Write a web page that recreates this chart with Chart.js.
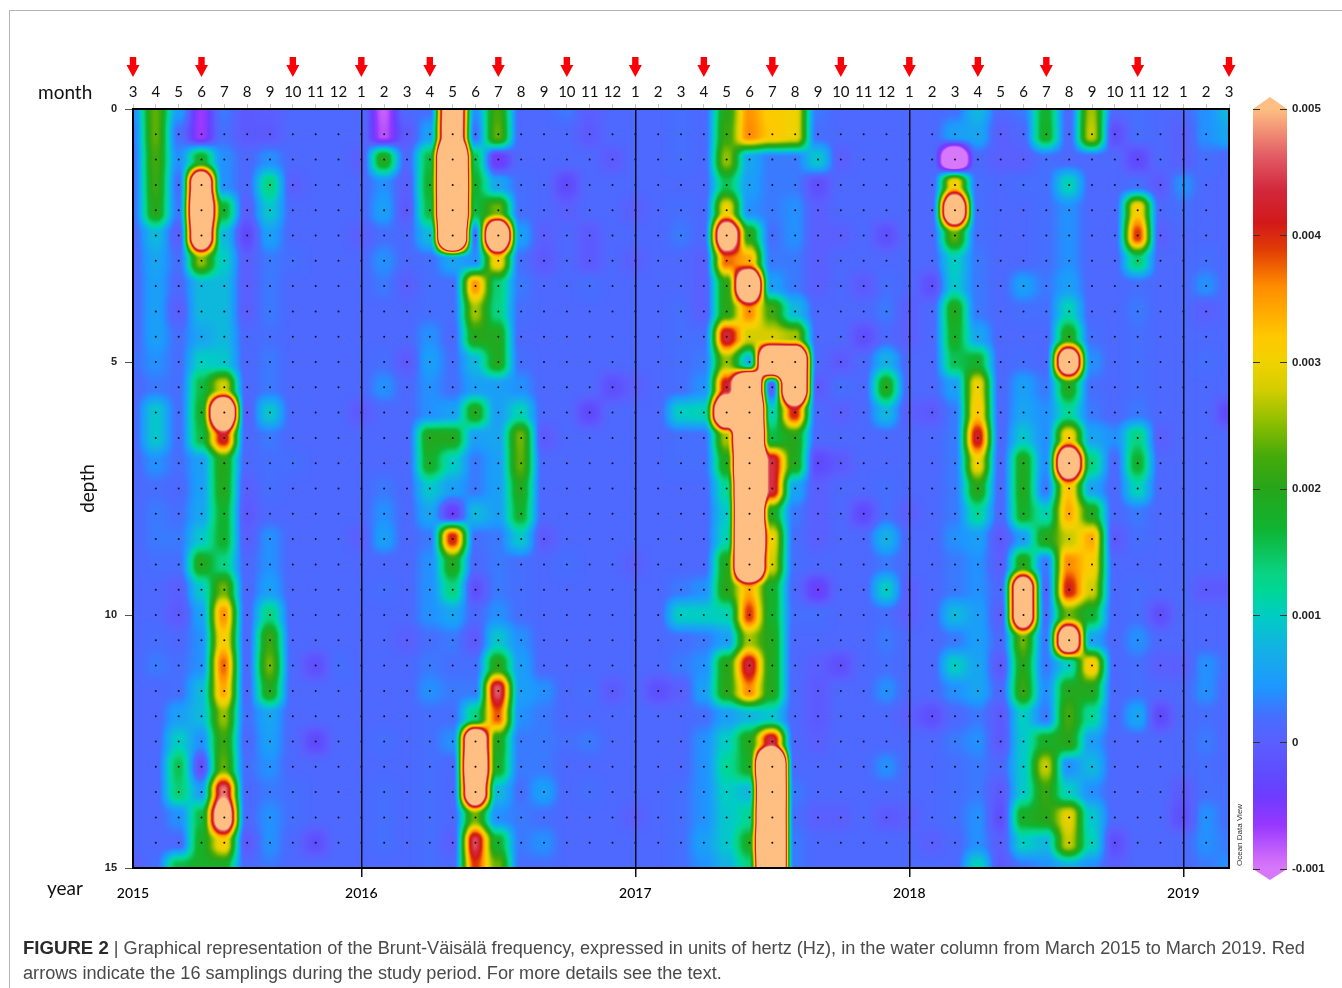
<!DOCTYPE html>
<html>
<head>
<meta charset="utf-8">
<title>Brunt-Väisälä frequency</title>
<script src="https://cdn.jsdelivr.net/npm/chart.js@4"></script>
<style>
    html, body { margin: 0; padding: 0; background: #fff; }
    body { position: relative; width: 1342px; height: 988px; overflow: hidden; }
    #frame { position: absolute; left: 9px; top: 10px; width: 1333px; height: 978px; border-top: 1.5px solid #b4b4b4; border-left: 1.5px solid #b4b4b4; }
    canvas { position: absolute; }
    #myChart { left: 0; top: 0; }
    #scaleChart { left: 1240px; top: 85px; }
    .side { position: absolute; font: 19px Lato, sans-serif; color: #111; line-height: 24px; }
    #odv { position: absolute; left: 1235px; top: 866px; font: 8px "Liberation Sans", sans-serif; color: #333; white-space: nowrap; transform-origin: 0 0; transform: rotate(-90deg); }
    #caption { position: absolute; left: 23px; top: 935px; width: 1300px; font: 18.15px/25px "Liberation Sans", sans-serif; color: #4a4a4a; }
    #caption b { color: #2b2b2b; font-size: 18.6px; }
</style>
</head>
<body>
<div id="frame"></div>
<canvas id="myChart" width="1342" height="988"></canvas>
<canvas id="scaleChart" width="102" height="810"></canvas>
<div class="side" style="left:38px;top:80px">month</div>
<div class="side" style="left:47px;top:876px">year</div>
<div id="odv">Ocean Data View</div>
<div id="caption"><b>FIGURE 2</b> | Graphical representation of the Brunt-Väisälä frequency, expressed in units of hertz (Hz), in the water column from March 2015 to March 2019. Red arrows indicate the 16 samplings during the study period. For more details see the text.</div>

<script>
const monthLabels = [3,4,5,6,7,8,9,10,11,12,1,2,3,4,5,6,7,8,9,10,11,12,1,2,3,4,5,6,7,8,9,10,11,12,1,2,3,4,5,6,7,8,9,10,11,12,1,2,3];
const yearLabels = ['2015','2016','2017','2018','2019'];
const yearPositions = [0,10,22,34,46];
const arrowPositions = [0,3,7,10,13,16,19,22,25,28,31,34,37,40,44,48];
const depths = [0,.5,1,1.5,2,2.5,3,3.5,4,4.5,5,5.5,6,6.5,7,7.5,8,8.5,9,9.5,10,10.5,11,11.5,12,12.5,13,13.5,14,14.5,15];

// frequency in 0.001 Hz, one list per month, one value per depth
const freq = [
    [.4,.3,.2,.2,.2, .1,.1,.1,.1,.1, .2,.1,.1,.1,.1, .1,.1,.1,.1,.1, .1,.1,.1,.1,.1, .1,.1,.1,.1,.1,0],
    [2.3,2.3,2.2,2.1,2, .8,.6,.5,.5,.5, .4,.3,.9,.9,.4, .2,.3,.3,.2,.1, .1,.2,.3,.1,.1, .1,.1,.1,.1,.1,.2],
    [.5,.2,.4,.2,.3, 0,.2,.1,0,.2, .2,.2,.2,.2,.2, .1,.2,.3,.2,0, -.1,.1,.2,.2,.5, 1,1.5,1.4,.4,.1,1.6],
    [-.7,-.7,1.8,8,9, 8,2.5,.8,.8,.6, 1,1.6,1.7,1.6,.5, .5,.6,.9,1.9,.9, .5,.4,.4,.8,.8, .4,-.2,.5,1.6,1.8,1.8],
    [.3,.2,.4,.4,1.7, .8,1,.8,.8,.8, .9,2.8,9,4.2,2, 1.9,1.7,1.7,1.3,2.4, 3.5,3.1,3.7,3.4,2.5, 2.1,2.3,4.7,6.5,3.1,1.8],
    [-.1,-.1,.1,.1,0, -.3,0,0,0,.1, .1,.1,0,.1,.1, 0,-.1,0,.1,.1, .1,.1,.1,.1,.2, .1,.2,.1,.1,-.1,.1],
    [0,-.1,.4,1.3,.9, .5,.3,.3,.3,.2, .3,.3,.9,.3,.2, .2,.1,.4,.4,.5, 1.3,2.1,2.4,1.9,.6, .5,.4,.3,.4,.4,.3],
    [.1,.1,.1,0,.1, .1,.2,.1,.1,.1, .1,.1,.1,.1,.2, .1,.1,.1,.1,.1, .1,.1,.1,.1,.1, .1,.1,.2,.2,.1,.1],
    [.1,.1,.1,.1,.1, .1,.1,.1,.1,.1, .1,.1,.1,.1,.1, .1,.1,.1,.1,.1, .1,.1,-.2,.1,.1, -.3,.1,.1,.1,-.2,.1],
    [.1,.1,.1,.1,.1, .1,.1,.1,.1,.1, .1,.1,.1,.1,.1, .1,.1,.1,.1,.1, .1,.1,.2,.1,.1, .1,.1,.1,.1,.1,.1],
    [.1,.1,0,.1,.1, 0,.1,.1,.1,.1, .1,.1,-.1,.1,.1, .1,.1,0,.1,.1, .1,.1,.1,.1,.1, .1,.1,.1,.1,.1,.1],
    [-.9,-.8,1.9,.4,.5, .2,.4,.3,.1,.1, .2,.4,.1,.1,.1, .3,.4,.5,.1,.2, .1,.1,.1,.1,.1, .2,.1,.2,.2,.2,.1],
    [.1,-.1,.1,0,-.1, .1,.1,0,.1,.1, -.1,.1,.1,.1,.1, .1,.1,.1,.1,.1, .1,0,.1,.1,.1, .1,.1,.1,.1,.1,.1],
    [.2,.5,1.6,1.7,1.6, .8,.2,.2,.2,.4, .5,.4,.4,1.9,1.8, .9,.6,.3,.4,.4, .4,.2,.3,.4,.2, .2,.2,.2,.2,.2,.2],
    [8,8,14,14,14, 13,.6,.2,.2,.1, .2,.2,.5,1.9,1, .5,-.4,4.1,1.9,1.3, .6,.3,.2,.3,.2, .4,.1,.1,.1,0,.1],
    [.4,.2,1.5,1.7,1.6, .2,.4,3.5,2.6,2, .8,.5,1.9,.5,.3, .3,.8,.2,.1,-.2, .1,-.1,.2,.3,1.3, 8,9,8,2.4,4.5,3.9],
    [2.2,2.3,-.5,.6,2.4, 9,3.1,1.4,1.3,1.9, 1.9,.5,.5,.6,.5, .5,.5,.3,.3,.3, .4,.9,2,4.6,3.8, 1.9,1.8,.8,.4,1.7,2.4],
    [.1,.1,.1,.2,.2, .5,.2,.3,.2,.1, .2,.4,1.1,2.4,2.3, 1.9,1.7,.9,.2,.2, .2,.4,.5,.5,.4, .3,.3,.2,.3,.3,.2],
    [.1,.1,.1,.1,.1, 0,-.1,.1,.1,.1, .1,.1,.1,-.1,.1, .1,.1,-.1,.1,.1, .1,.1,.1,.4,.3, .3,.3,.5,.2,.4,.2],
    [.3,.1,.1,-.3,0, .1,.1,.1,.1,.1, .1,.1,.1,.1,.1, .1,.1,.1,.2,.1, .1,.1,.1,.1,.1, .2,.1,.1,.1,.1,.1],
    [0,-.1,.1,.1,.1, -.1,-.1,.2,.1,.1, .1,.1,-.3,.1,.1, .1,.1,.1,.1,.1, .1,.1,.1,.2,.1, .3,.1,.2,.1,.1,.1],
    [.1,.1,-.1,.1,.1, .1,.1,.1,.1,.1, .1,-.2,.1,.1,.1, .1,.1,.1,.1,.1, .1,.1,.1,-.1,.1, .1,.1,.1,.1,.1,.1],
    [.1,.1,.1,.1,0, .1,0,.1,.1,.1, .1,0,.1,.1,.1, .1,.1,.1,0,.1, .1,.1,.1,.1,.1, .1,.1,.1,0,.1,.1],
    [.1,.1,.1,.1,.1, .1,.1,.1,.1,.1, .1,.1,.1,.1,.1, .1,.1,.1,.1,.1, .1,.1,.1,-.2,.1, .1,.1,.1,.1,.1,.1],
    [.2,.2,.2,.1,.2, .3,.1,.1,.2,.2, .2,.2,1,.2,.2, .1,.1,.1,.1,.3, 1,.2,.3,0,.1, .1,.1,.2,.2,.2,.2],
    [.1,.1,.1,.1,.1, .1,0,0,0,.2, .3,.4,1.1,.2,.2, .1,.1,.1,.1,.4, 1,.3,.4,.5,.2, .4,.4,.4,.4,.5,.4],
    [2,2.1,2.5,1.5,3, 7,3.7,2,2,4.3, 2.5,4.2,9,2.6,1.9, 1.2,.9,1.1,1.9,2, 1.1,.5,2,2,.5, 1,1.2,1,.9,.9,.7],
    [3.5,3.6,.6,.5,.4, 2,3.4,9,3.6,2.8, .7,11,14,14,14, 14,14,14,12,3.4, 3.9,2.6,4.3,3.6,.8, 1.9,1.8,.8,1.2,1.8,1.3],
    [3.1,3.2,.3,.3,.3, .2,.3,.5,2.2,2.8, 10,0,1.1,1.6,4.4, 4.4,1.9,3,2.8,1.8, 1.8,1.9,1.9,1.9,.9, 4.4,14,14,14,14,14],
    [3,3,.3,.3,.4, .4,.3,.3,.8,2.6, 10,10,4.1,2,1.9, .6,.3,.2,.2,.1, .2,.1,.1,.1,.1, .1,.1,.3,.2,.3,.3],
    [.3,.2,.9,-.2,0, 0,0,0,.1,.1, .1,-.1,.1,.1,-.3, 0,0,0,.1,-.4, .2,.1,0,-.1,-.1, 0,.1,.1,0,.1,.1],
    [.1,.1,0,.1,.1, 0,.1,.1,.1,.1, -.1,.2,0,.1,-.1, .1,.1,.1,.1,.1, .1,.1,-.2,.1,.1, .1,.1,.1,0,.1,.1],
    [.1,.1,.1,.1,.1, .1,.1,-.1,.1,-.2, .1,.1,.1,.1,.1, .1,-.3,.1,.1,.1, .1,.1,.1,.1,.1, .1,.1,.1,.1,.1,.1],
    [.1,.1,.1,.1,.1, -.2,.1,.2,.3,.1, .7,1.9,.8,.1,.1, .2,.2,.7,.3,1, .2,.3,.2,.4,.1, .1,.4,.1,-.1,.1,.1],
    [.1,.1,.1,.1,.1, .1,.1,.1,0,0, .1,.1,0,.1,.1, .1,0,.1,.1,0, 0,.1,.1,.1,0, .1,.1,.1,0,.1,.1],
    [.1,.1,.1,.1,.1, .1,.1,-.2,.1,.1, .1,.1,-.1,.1,.1, .1,.1,.1,.1,.1, .1,.1,.1,.1,-.2, .1,.1,.1,.1,0,.1],
    [.2,.5,-2.5,3.1,8, 2.3,1,.9,1.9,1.8, 1.5,.5,.3,.3,.3, .3,.3,.4,.3,.3, .8,.3,1,.4,.1, .3,.2,.2,.2,.1,.1],
    [.8,.6,.1,.2,.2, .2,.3,.3,.3,.6, 1.7,3,3.2,4.2,3, 2,1.2,.5,.4,.4, .5,.5,.6,.6,.3, .4,.3,.3,.4,.4,1.1],
    [.1,0,0,.1,.1, .1,.1,.1,.1,.1, .1,.1,.1,.1,.1, .1,.1,-.1,0,.1, 0,.1,-.1,.1,-.1, -.1,.1,-.1,-.2,0,-.1],
    [.3,.1,0,.2,.1, .1,.1,.5,.2,.1, .2,.5,.6,.9,1.9, 1.9,1.8,.5,2,7.5, 7.5,2.4,2,2.1,1, .9,.9,.9,1.8,1,.3],
    [1.7,1.8,.2,.2,.2, .2,.2,.3,.2,.1, .1,.3,.4,.4,.4, .3,1.1,1.9,.3,.1, .2,.3,.3,.4,.3, 1.8,2.7,2.1,2,.8,.4],
    [.1,.1,.1,1.1,.4, .4,.4,.5,1.1,1.9, 7.5,1.9,1.2,3.1,8, 3.2,3.4,2.7,3.6,4.1, 2.4,7.5,1,1.9,2.2, 2,.4,1,2.9,2.7,.7],
    [2.6,2.7,.1,.1,.1, .1,.1,.1,.1,.2, .4,.2,.3,.6,1.3, .6,1.9,3.4,3.1,2.8, 1.7,.6,3.2,1.9,1.2, .5,.8,.4,.9,1.1,.4],
    [.1,-.2,.1,.1,.1, .1,.1,.1,.1,.1, .1,.1,.1,.4,.1, .1,.1,-.1,.1,.1, .1,.1,.1,.1,.1, .1,.1,.1,.1,-.2,0],
    [.2,.2,-.3,.2,3.1, 3.9,1.4,.2,.3,.2, .2,.2,.3,1.3,1.7, 1.1,.3,.2,.1,.2, .2,.4,.2,.2,.6, .1,.1,.1,.1,.1,.1],
    [.1,.1,.1,-.1,.1, 0,.1,.1,.1,.1, .1,.1,.1,0,.1, .1,.1,.1,.1,.1, -.2,.1,0,.1,-.3, .1,.1,.1,.1,.1,.1],
    [.1,0,0,.4,.2, .1,.1,.1,.1,.1, .1,.1,.1,.1,.1, .1,.1,.1,.1,.1, .1,.1,0,.1,.1, .1,.1,-.1,-.2,.1,.1],
    [.4,.4,.2,.1,.1, .1,.2,.4,0,.1, .2,.1,.1,.1,.1, .1,.1,.1,.1,-.1, .1,.1,.4,.4,.2, .3,.2,.2,.4,.4,.3],
    [.8,.6,.1,.1,.1, .1,.1,.1,.1,.1, .1,.1,-.3,.1,.1, .1,.1,.1,.1,-.1, .1,.1,.2,.1,.1, .1,.1,.2,.2,.3,.4]
];

const scaleValues = [-1,-.91,-.65,-.43,-.25,0,.2,.43,.72,1,1.2,1.34,1.68,2.02,2.26,2.52,2.78,3,3.2,3.6,3.89,4.1,4.36,4.62,5];
const scaleColors = [[215,120,250],[205,105,250],[150,55,255],[110,60,255],[95,75,255],[90,95,255],[70,110,255],[30,150,255],[20,175,230],[0,205,195],[0,215,150],[10,210,130],[15,180,50],[40,165,25],[70,170,10],[140,190,0],[210,205,0],[240,210,0],[255,200,0],[255,140,0],[225,60,5],[210,25,25],[210,40,60],[225,90,100],[255,190,130]];

// the cells are drawn as grey levels, then smoothed and coloured like the ODV gridding
const greyMin = -3, greyMax = 14;
const cellSprites = {};
function cellSprite(v) {
    const g = Math.round((Math.min(greyMax, Math.max(greyMin, v)) - greyMin) / (greyMax - greyMin) * 255);
    if (!cellSprites[g]) {
        const c = document.createElement('canvas');
        c.width = 24;
        c.height = 26;
        const x = c.getContext('2d');
        x.fillStyle = `rgb(${g},${g},${g})`;
        x.fillRect(0, 0, 24, 26);
        cellSprites[g] = c;
    }
    return cellSprites[g];
}

function colorFor(v) {
    if (v <= scaleValues[0]) return scaleColors[0];
    for (let i = 1; i < scaleValues.length; i++) {
        if (v <= scaleValues[i]) {
            const t = (v - scaleValues[i - 1]) / (scaleValues[i] - scaleValues[i - 1]);
            const a = scaleColors[i - 1], b = scaleColors[i];
            return [a[0] + (b[0] - a[0]) * t, a[1] + (b[1] - a[1]) * t, a[2] + (b[2] - a[2]) * t];
        }
    }
    return scaleColors[scaleColors.length - 1];
}

function boxPass(src, w, h, size, horizontal) {
    const out = new Float32Array(w * h);
    const half = size >> 1;
    const lines = horizontal ? h : w, len = horizontal ? w : h;
    for (let l = 0; l < lines; l++) {
        const at = i => {
            const k = Math.min(len - 1, Math.max(0, i));
            return horizontal ? src[l * w + k] : src[k * w + l];
        };
        let sum = 0;
        for (let i = -half; i <= half; i++) sum += at(i);
        for (let i = 0; i < len; i++) {
            out[horizontal ? l * w + i : i * w + l] = sum / (half * 2 + 1);
            sum += at(i + half + 1) - at(i - half);
        }
    }
    return out;
}

const gridding = {
    id: 'gridding',
    afterDatasetDraw(chart, args) {
        if (args.index !== 1) return;
        const a = chart.chartArea, ctx = chart.ctx;
        const x0 = Math.round(a.left), y0 = Math.round(a.top);
        const w = Math.round(a.right) - x0, h = Math.round(a.bottom) - y0;
        const img = ctx.getImageData(x0, y0, w, h);
        let vals = new Float32Array(w * h);
        for (let i = 0; i < w * h; i++) vals[i] = img.data[i * 4] / 255 * (greyMax - greyMin) + greyMin;
        vals = boxPass(vals, w, h, 15, true);
        vals = boxPass(vals, w, h, 15, false);
        vals = boxPass(vals, w, h, 7, true);
        vals = boxPass(vals, w, h, 7, false);
        for (let i = 0; i < w * h; i++) {
            const c = colorFor(vals[i]);
            img.data[i * 4] = c[0];
            img.data[i * 4 + 1] = c[1];
            img.data[i * 4 + 2] = c[2];
            img.data[i * 4 + 3] = 255;
        }
        ctx.putImageData(img, x0, y0);
    }
};

const samplingArrows = {
    id: 'samplingArrows',
    afterDraw(chart) {
        const ctx = chart.ctx, xs = chart.scales.x;
        ctx.save();
        ctx.fillStyle = '#fb0007';
        arrowPositions.forEach(p => {
            const x = xs.getPixelForValue(p);
            ctx.beginPath();
            ctx.moveTo(x - 3.2, 57);
            ctx.lineTo(x + 3.2, 57);
            ctx.lineTo(x + 3.2, 65);
            ctx.lineTo(x + 6.5, 65);
            ctx.lineTo(x, 77);
            ctx.lineTo(x - 6.5, 65);
            ctx.lineTo(x - 3.2, 65);
            ctx.closePath();
            ctx.fill();
        });
        ctx.restore();
    }
};

const cells = [];
freq.forEach((col, m) => col.forEach((v, d) => cells.push({x: m, y: depths[d], v: v})));

const dots = [];
monthLabels.forEach((_, m) => {
    if (m === 0 || m === monthLabels.length - 1) return;
    depths.forEach(d => {
        if (d > 0 && d < 15) dots.push({x: m, y: d});
    });
});

new Chart(document.getElementById('myChart').getContext('2d'), {
    type: 'scatter',
    data: {
        datasets: [{
            label: 'CTD stations',
            data: dots,
            pointRadius: 1,
            pointBorderWidth: 0,
            pointBackgroundColor: '#111'
        }, {
            label: 'Brunt-Väisälä frequency',
            data: cells,
            pointStyle: c => cellSprite(c.raw.v),
            pointRadius: 13,
            pointBorderWidth: 0
        }]
    },
    options: {
        responsive: false,
        animation: false,
        events: [],
        plugins: { legend: { display: false }, tooltip: { enabled: false } },
        layout: { padding: 0 },
        scales: {
            x: {
                type: 'linear',
                position: 'top',
                min: 0,
                max: 48,
                afterFit: s => { s.height = 109; },
                grid: { drawOnChartArea: false, color: '#c8c8c8', tickLength: 5 },
                border: { color: '#000', width: 2, z: 1 },
                ticks: {
                    stepSize: 1,
                    autoSkip: false,
                    maxRotation: 0,
                    padding: 3,
                    color: '#111',
                    font: { family: 'Lato', size: 15 },
                    callback: v => monthLabels[v]
                }
            },
            yearAxis: {
                type: 'linear',
                position: 'bottom',
                min: 0,
                max: 48,
                afterFit: s => { s.height = 120; },
                afterBuildTicks: s => { s.ticks = yearPositions.map(v => ({value: v})); },
                grid: { z: 1, lineWidth: 1.5, tickLength: 9, color: c => c.index === 0 ? 'transparent' : '#111' },
                border: { color: '#000', width: 2, z: 1 },
                ticks: {
                    autoSkip: false,
                    maxRotation: 0,
                    padding: 8,
                    color: '#000',
                    font: { family: 'Lato', size: 14, weight: '500' },
                    callback: v => yearLabels[yearPositions.indexOf(v)]
                }
            },
            y: {
                type: 'linear',
                position: 'left',
                reverse: true,
                min: 0,
                max: 15,
                afterFit: s => { s.width = 133; },
                grid: { drawOnChartArea: false, color: '#555', tickLength: 8 },
                border: { color: '#000', width: 2, z: 1 },
                title: { display: true, text: 'depth', color: '#111', font: { family: 'Lato', size: 19 }, padding: { top: 76, bottom: 0 } },
                ticks: { stepSize: 5, padding: 8, color: '#222', font: { family: 'Liberation Sans', size: 11, weight: 'bold' } }
            },
            rightEdge: {
                type: 'linear',
                position: 'right',
                min: 0,
                max: 15,
                afterFit: s => { s.width = 113; },
                grid: { display: false },
                border: { color: '#000', width: 2, z: 1 },
                ticks: { display: false }
            }
        }
    },
    plugins: [gridding, samplingArrows]
});

// colour scale on the right
const scaleTips = {
    id: 'scaleTips',
    afterDatasetsDraw(chart) {
        const ctx = chart.ctx, a = chart.chartArea, ys = chart.scales.y;
        const mid = (a.left + a.right) / 2;
        const tip = (v, dy, c) => {
            ctx.fillStyle = c;
            ctx.beginPath();
            ctx.moveTo(a.left, ys.getPixelForValue(v));
            ctx.lineTo(mid, ys.getPixelForValue(v) + dy);
            ctx.lineTo(a.right, ys.getPixelForValue(v));
            ctx.closePath();
            ctx.fill();
        };
        tip(5, -12, '#ffbe82');
        tip(-1, 11, '#d778fa');
    }
};

new Chart(document.getElementById('scaleChart').getContext('2d'), {
    type: 'bar',
    data: {
        labels: ['frequency'],
        datasets: [{
            data: [[scaleValues[0], scaleValues[scaleValues.length - 1]]],
            barPercentage: 1,
            categoryPercentage: 1,
            borderWidth: 0,
            backgroundColor: c => {
                const a = c.chart.chartArea;
                if (!a) return '#888';
                const g = c.chart.ctx.createLinearGradient(0, a.bottom, 0, a.top);
                scaleValues.forEach((v, i) => {
                    g.addColorStop((v - scaleValues[0]) / 6, `rgb(${scaleColors[i].join(',')})`);
                });
                return g;
            }
        }]
    },
    options: {
        responsive: false,
        animation: false,
        events: [],
        plugins: { legend: { display: false }, tooltip: { enabled: false } },
        layout: { padding: { left: 13, top: 24, bottom: 26 } },
        scales: {
            x: { display: false },
            y: {
                position: 'right',
                min: -1,
                max: 5,
                afterFit: s => { s.width = 55; },
                grid: { z: 1, drawTicks: false, color: '#333' },
                border: { display: false, dash: [7, 20] },
                ticks: {
                    stepSize: 1,
                    padding: 5,
                    color: '#222',
                    font: { family: 'Liberation Sans', size: 11.5, weight: 'bold' },
                    callback: v => v === 0 ? '0' : (v / 1000).toFixed(3)
                }
            }
        }
    },
    plugins: [scaleTips]
});
</script>
</body>
</html>
